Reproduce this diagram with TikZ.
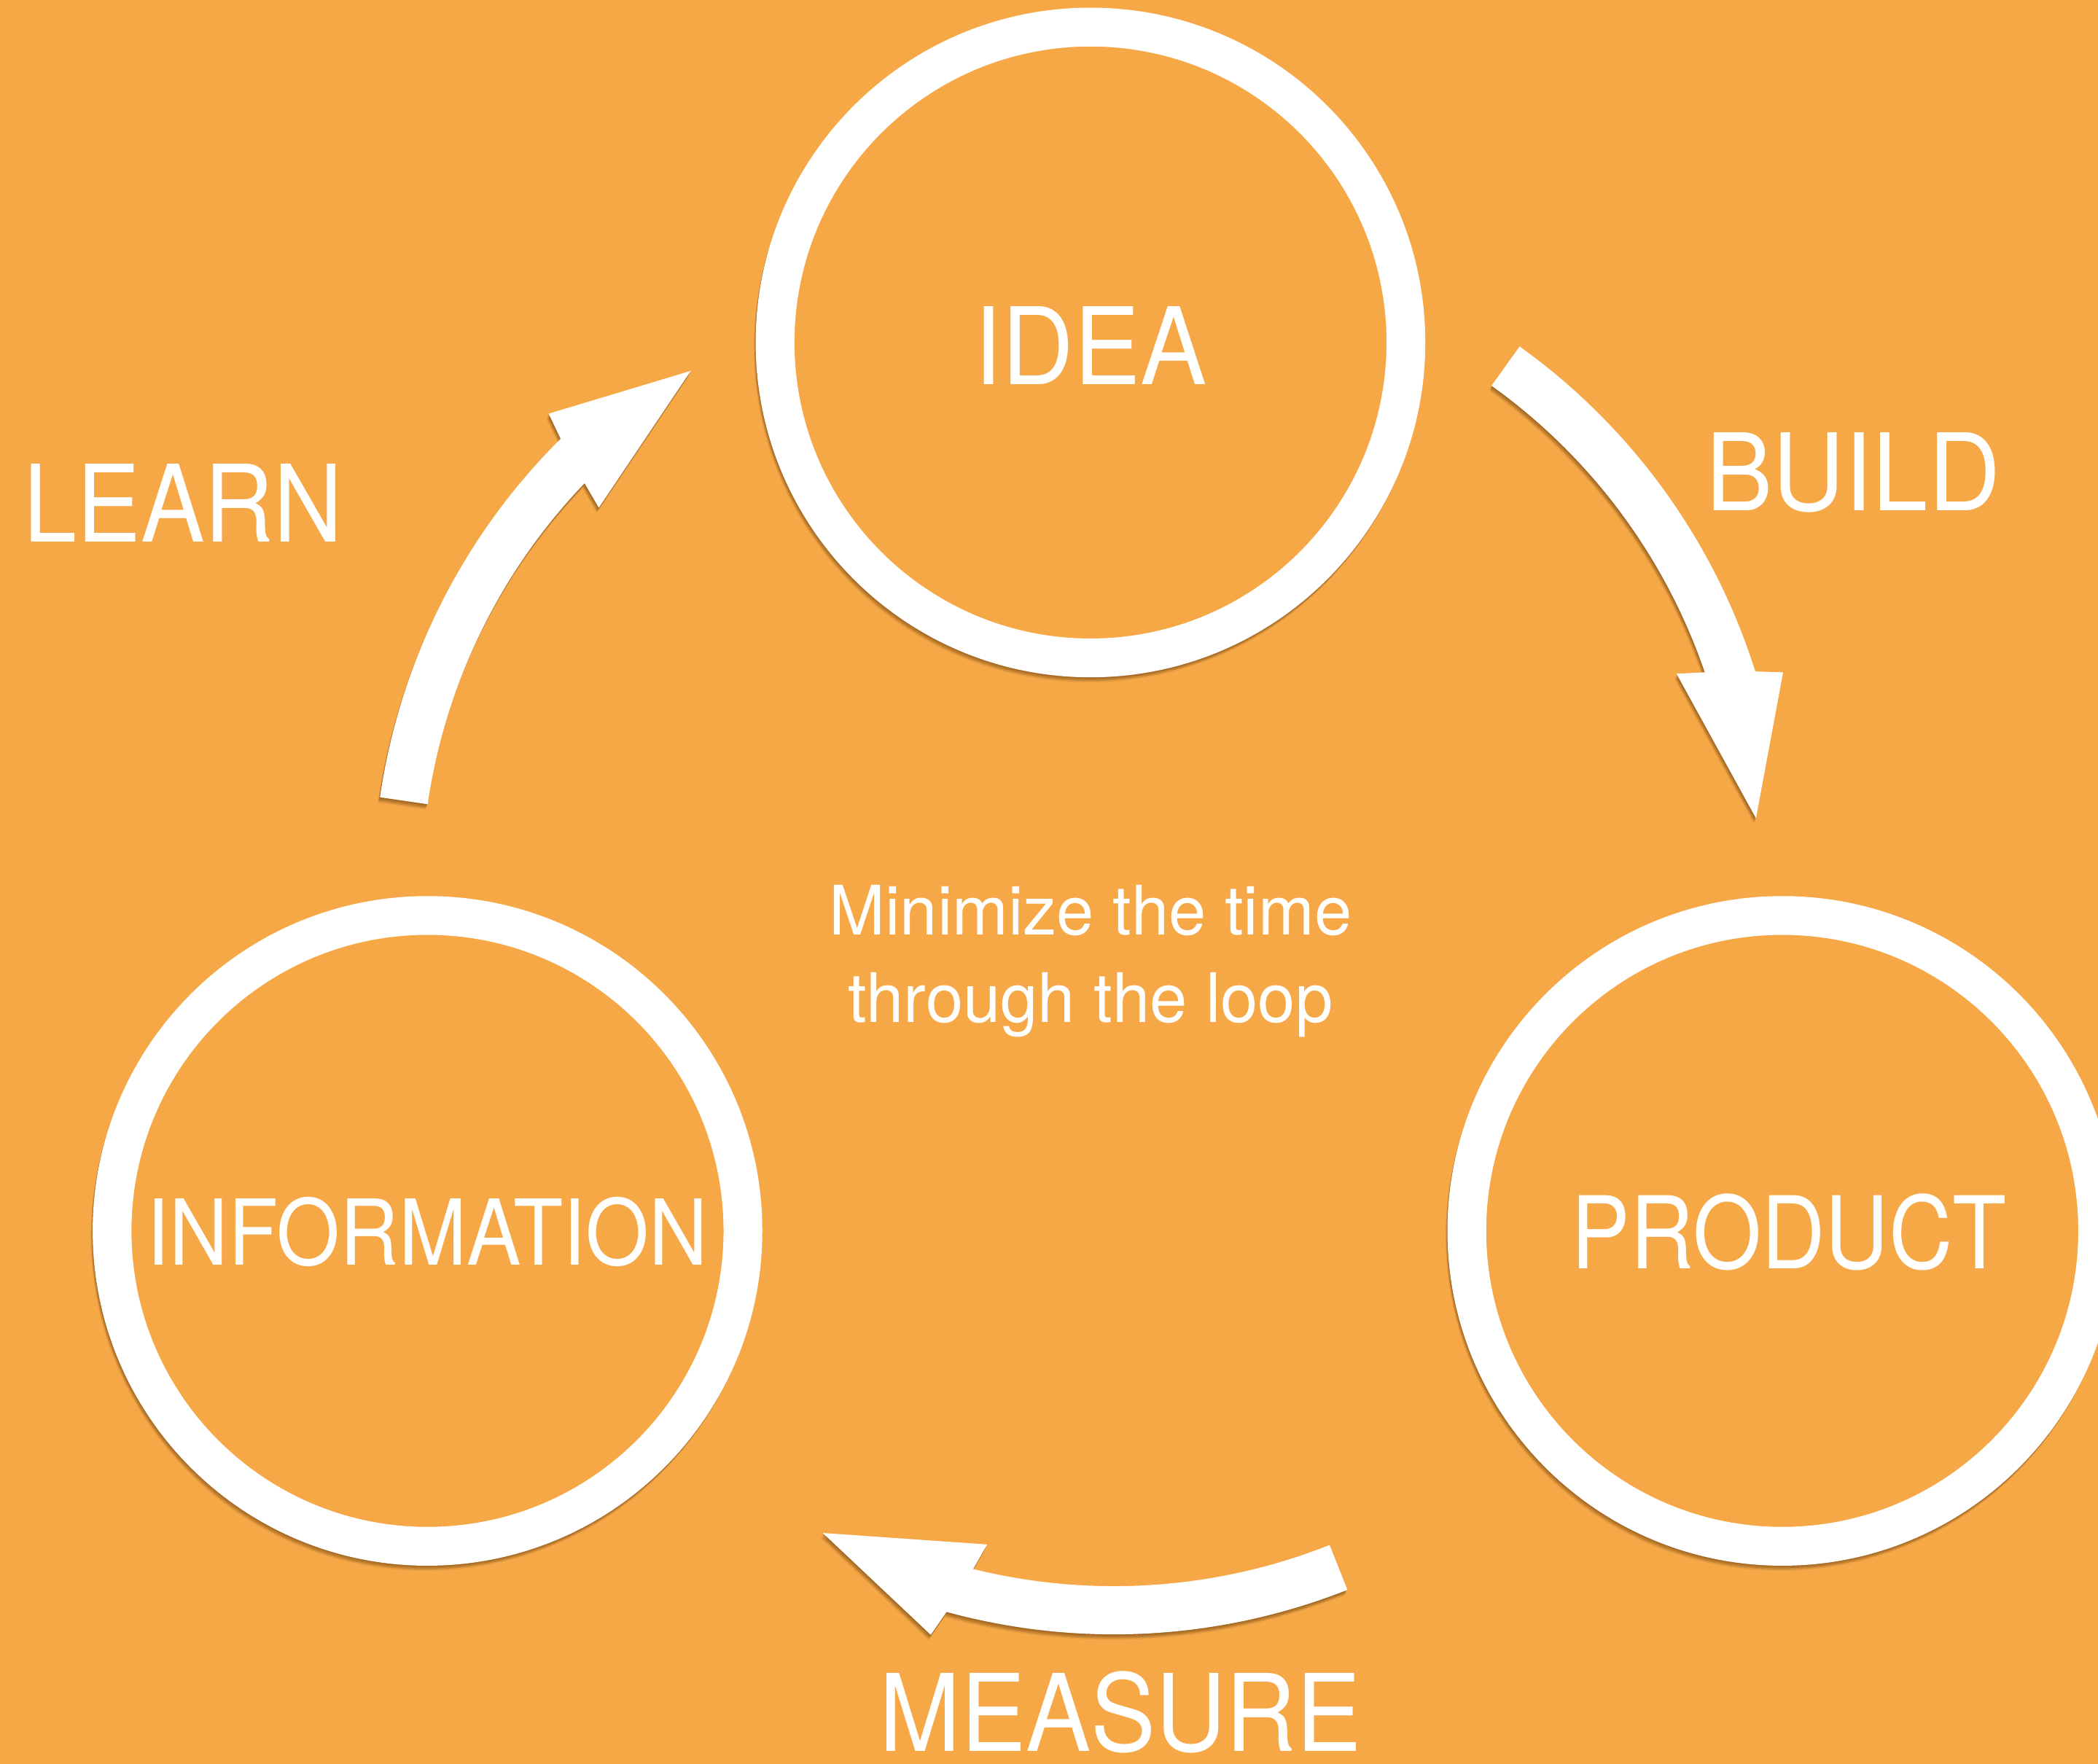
\documentclass[tikz,border=0pt]{standalone}
\usepackage{fontspec}
\setmainfont{TeX Gyre Heros}
\definecolor{bg}{HTML}{F6A847}
\definecolor{shadowc}{RGB}{110,65,15}
\tikzset{
  pics/cyclearrow/.style={code={
    \fill[#1] (0:474) arc[start angle=0, end angle=-36.9, radius=474]
      -- (-37.7:493.7) -- (-50.25:453.8) -- (-34.7:417.7)
      -- (-35.5:438) arc[start angle=-35.5, end angle=0, radius=438] -- cycle;
  }},
  ring/.style={circle, draw=white, line width=29pt, minimum size=471.5pt, inner sep=0pt},
  ringshadow/.style={fill=shadowc, opacity=0.22},
  lbl/.style={text=white, inner sep=0pt},
  biglbl/.style={lbl, font=\fontsize{80}{96}\selectfont},
  smalllbl/.style={lbl, font=\fontsize{51}{60}\selectfont, anchor=base, xscale=0.985},
}
\begin{document}
\begin{tikzpicture}[x=1pt,y=1pt]
\useasboundingbox (0,0) rectangle (1568,1318);
\fill[bg] (-6,-6) rectangle (1574,1324);
\clip (-1,-1) rectangle (1569,1319);
% centres
\coordinate (ideac) at (815,1062);
\coordinate (infoc) at (319.5,398);
\coordinate (prodc) at (1332,398);
\coordinate (learnc) at (753,653.7);
\coordinate (buildc) at (859.8,673.6);
\coordinate (measurec) at (832.5,570.4);
% shadows of rings (outside only)
\foreach \n in {ideac,infoc,prodc}{
  \begin{scope}[even odd rule]
    \clip (-1,-1) rectangle (1569,1319) (\n) circle[radius=250];
    \fill[ringshadow] ([shift={(-0.4,-1)}]\n) circle[radius=250];
    \fill[ringshadow] ([shift={(-0.8,-2)}]\n) circle[radius=250];
    \fill[ringshadow] ([shift={(-1.2,-3)}]\n) circle[radius=250];
    \fill[ringshadow, opacity=0.12] ([shift={(-1.6,-4)}]\n) circle[radius=250];
  \end{scope}
}
% shadows of arrows
\foreach \n/\r in {learnc/171.7,buildc/54.4,measurec/-68.4}{
  \pic[rotate=\r] at ([shift={(-0.4,-1)}]\n) {cyclearrow={shadowc,opacity=0.22}};
  \pic[rotate=\r] at ([shift={(-0.8,-2)}]\n) {cyclearrow={shadowc,opacity=0.22}};
  \pic[rotate=\r] at ([shift={(-1.2,-3)}]\n) {cyclearrow={shadowc,opacity=0.22}};
  \pic[rotate=\r] at ([shift={(-1.6,-4)}]\n) {cyclearrow={shadowc,opacity=0.12}};
}
% rings
\node[ring] (idea) at (ideac) {};
\node[ring] (info) at (infoc) {};
\node[ring] (product) at (prodc) {};
% arrows
\pic[rotate=171.7] (learnarrow) at (learnc) {cyclearrow=white};
\pic[rotate=54.4] (buildarrow) at (buildc) {cyclearrow=white};
\pic[rotate=-68.4] (measurearrow) at (measurec) {cyclearrow=white};
% labels
\node[biglbl, xscale=0.93] (idealbl) at (815,1060) {IDEA};
\node[biglbl, font=\fontsize{68}{80}\selectfont, xscale=0.895] (infolbl) at (319.5,397.5) {INFORMATION};
\node[biglbl, font=\fontsize{75}{90}\selectfont, xscale=0.88] (prodlbl) at (1337,397) {PRODUCT};
\node[biglbl, xscale=0.895] (learnlbl) at (137,942) {LEARN};
\node[biglbl, xscale=0.934] (buildlbl) at (1385,965) {BUILD};
\node[biglbl, xscale=0.91] (measurelbl) at (837.5,38.5) {MEASURE};
\node[smalllbl] (min1) at (815,619) {Minimize the time};
\node[smalllbl] (min2) at (815,554) {through the loop};
\end{tikzpicture}
\end{document}
